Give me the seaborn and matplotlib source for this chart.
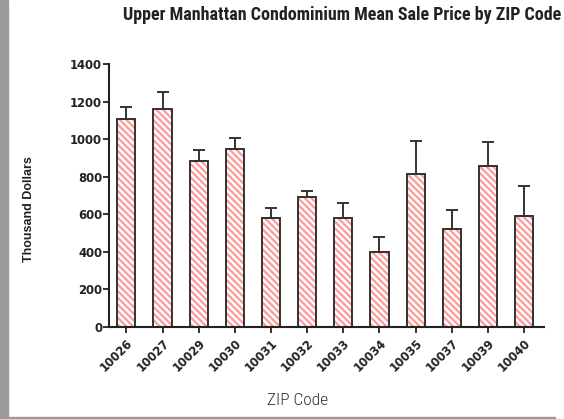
import numpy as np
import pandas as pd
import seaborn as sns
import matplotlib.pyplot as plt
from matplotlib.patches import Rectangle

zips = ['10026', '10027', '10029', '10030', '10031', '10032',
        '10033', '10034', '10035', '10037', '10039', '10040']
mean_price = [1105, 1163, 883, 949, 580, 690, 581, 397, 814, 523, 858, 590]
err_top = [1172, 1252, 942, 1004, 633, 723, 662, 477, 989, 621, 986, 748]

df = pd.DataFrame({'zip': zips, 'price': mean_price})
upper_err = np.array(err_top) - np.array(mean_price)

sns.set_theme(style="white")
plt.rcParams['font.family'] = ['DejaVu Sans']
plt.rcParams['hatch.linewidth'] = 1.6
plt.rcParams['hatch.color'] = '#ff9a9a'

narrow = ['Liberation Sans Narrow', 'Roboto Condensed', 'DejaVu Sans Condensed',
          'Open Sans Condensed', 'Roboto', 'DejaVu Sans']

fig = plt.figure(figsize=(5.64, 4.19), dpi=100)
ax = fig.add_axes([0.1933, 0.2196, 0.7712, 0.6277])

# hatched fill
sns.barplot(x='zip', y='price', data=df, ax=ax, color='white', width=0.5,
            hatch='\\\\\\\\\\', edgecolor='#ff9a9a', linewidth=0, errorbar=None)
# outlines on top
sns.barplot(x='zip', y='price', data=df, ax=ax, fill=False, width=0.5,
            edgecolor='#333333', linewidth=1.4, errorbar=None)

ax.errorbar(np.arange(len(zips)), mean_price,
            yerr=[np.zeros(len(zips)), upper_err],
            fmt='none', ecolor='#333333', elinewidth=1.4, capsize=4, capthick=1.4,
            zorder=1)

ax.set_xlim(-0.48, 11.55)
ax.set_ylim(0, 1400)
ax.set_yticks(range(0, 1401, 200))
for s in ['top', 'right']:
    ax.spines[s].set_visible(False)
for s in ['left', 'bottom']:
    ax.spines[s].set_color('#222222')
    ax.spines[s].set_linewidth(1.5)
ax.tick_params(axis='both', direction='out', length=4, width=1.3,
               color='#222222', labelsize=8.4, labelcolor='#222222',
               left=True, bottom=True)
ax.tick_params(axis='y', pad=1)
ax.tick_params(axis='x', pad=3)
for lab in ax.get_yticklabels():
    lab.set_fontweight('bold')
plt.setp(ax.get_xticklabels(), rotation=45, ha='right', va='top',
         rotation_mode='anchor', fontweight='bold')
ax.set_xlabel('')
ax.set_ylabel('Thousand Dollars', fontsize=9, fontweight='bold',
              family=['Liberation Sans', 'DejaVu Sans'], color='#222222')
ax.yaxis.set_label_coords(-0.17, 0.45)

fig.text(0.995, 0.965, 'Upper Manhattan Condominium Mean Sale Price by ZIP Code',
         ha='right', va='center', fontsize=13, fontweight='bold',
         fontstretch='condensed', family=narrow, color='#222222')
fig.text(0.528, 0.045, 'ZIP Code', ha='center', va='center', fontsize=12.5,
         fontweight='light', fontstretch='condensed', family=narrow,
         color='#333333')

# page frame decoration
fig.patches.append(Rectangle((0, 0), 8 / 564, 1, transform=fig.transFigure,
                             color='#9a9a9a', zorder=0))
fig.patches.append(Rectangle((0, 0), 555 / 564, 2 / 419, transform=fig.transFigure,
                             color='#9a9a9a', zorder=0))

fig.savefig('out.png', dpi=100)
